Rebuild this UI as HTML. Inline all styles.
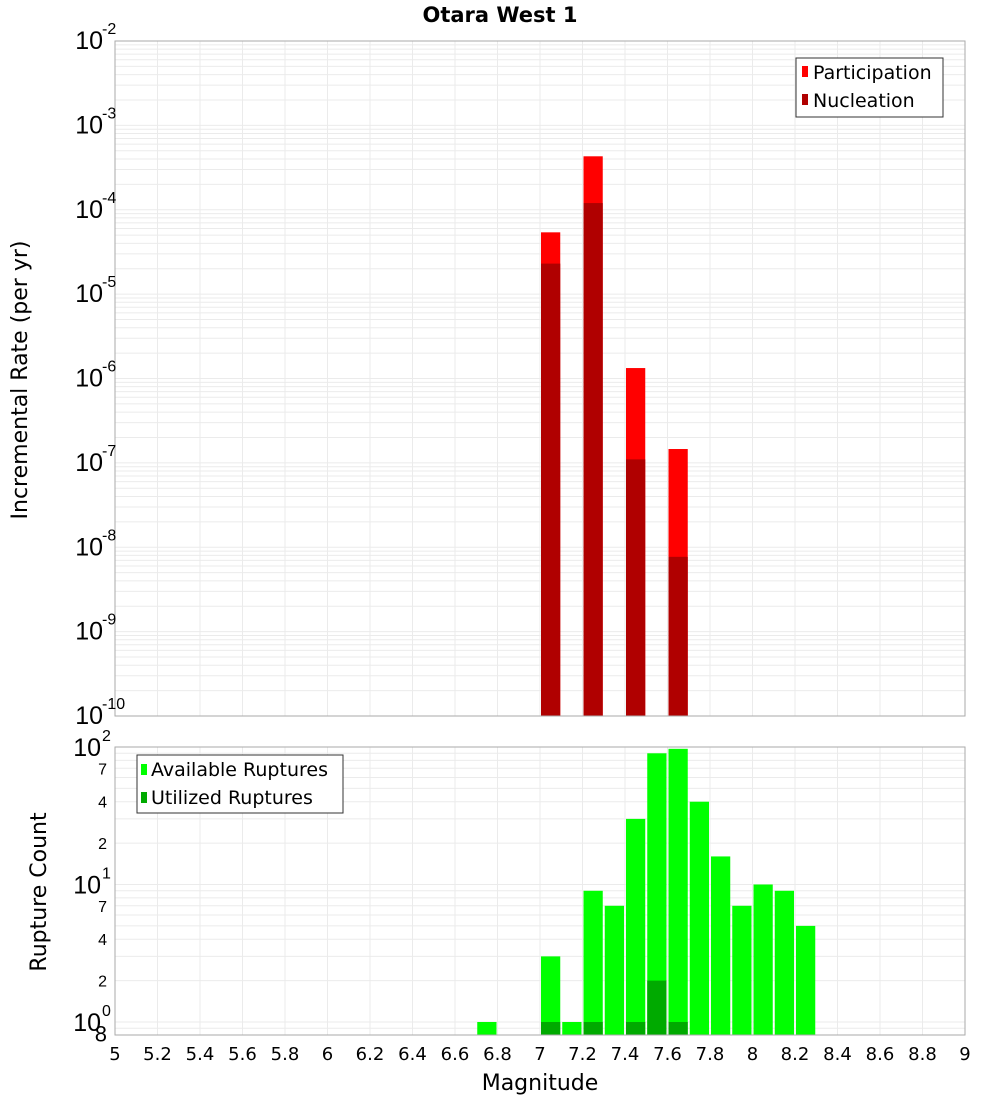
<!DOCTYPE html>
<html><head><meta charset="utf-8"><style>
html,body{margin:0;padding:0;background:#fff;}
svg{display:block;font-family:"Liberation Sans","DejaVu Sans",sans-serif;}
</style></head><body>
<svg id="chart" width="1000" height="1100" viewBox="0 0 1000 1100" xmlns="http://www.w3.org/2000/svg">
<text x="500" y="22" text-anchor="middle" font-size="21" font-weight="bold" font-family="DejaVu Sans, sans-serif">Otara West 1</text>
<g id="topg"></g>
<g id="botg"></g>
<text transform="translate(27,380) rotate(-90)" text-anchor="middle" font-size="22" font-family="DejaVu Sans, sans-serif">Incremental Rate (per yr)</text>
<text transform="translate(46,892) rotate(-90)" text-anchor="middle" font-size="22" font-family="DejaVu Sans, sans-serif">Rupture Count</text>
<text x="540" y="1090" text-anchor="middle" font-size="22" font-family="DejaVu Sans, sans-serif">Magnitude</text>
</svg>
<script>
const rateMags = [7.05, 7.25, 7.45, 7.65];
const participation = [5.4e-5, 4.3e-4, 1.33e-6, 1.46e-7];
const nucleation = [2.3e-5, 1.2e-4, 1.1e-7, 7.7e-9];
const countMags = [6.75, 7.05, 7.15, 7.25, 7.35, 7.45, 7.55, 7.65, 7.75, 7.85, 7.95, 8.05, 8.15, 8.25];
const available = [1, 3, 1, 9, 7, 30, 90, 97, 40, 16, 7, 10, 9, 5];
const utilMags = [7.05, 7.25, 7.45, 7.55, 7.65];
const utilized = [1, 1, 1, 2, 1];
const xTicks = ["5","5.2","5.4","5.6","5.8","6","6.2","6.4","6.6","6.8","7","7.2","7.4","7.6","7.8","8","8.2","8.4","8.6","8.8","9"];
const topExps = [-2,-3,-4,-5,-6,-7,-8,-9,-10];

const NS="http://www.w3.org/2000/svg";
const L=115, R=965;
const X=m=>L+(m-5)/4*(R-L);
const T0=41,T1=716;
const yTop=v=>T0+(-2-Math.log10(v))/8*(T1-T0);
const B0=747,B1=1035, BD=137.5;
const yBot=v=>1022-Math.log10(v)*BD;
function mk(p,tag,a){const e=document.createElementNS(NS,tag);for(const k in a)e.setAttribute(k,a[k]);p.appendChild(e);return e;}
const topG=document.getElementById('topg'), botG=document.getElementById('botg');

const tg=mk(topG,'g',{});


for(let e=-10;e<-2;e++)for(let k=1;k<10;k++){const y=yTop(k*Math.pow(10,e));mk(tg,'line',{x1:L,x2:R,y1:y,y2:y,stroke:'#ebebeb','stroke-width':1});}
xTicks.forEach(t=>{const x=X(+t);mk(tg,'line',{x1:x,x2:x,y1:T0,y2:T1,stroke:'#ebebeb'});});
rateMags.forEach((m,i)=>{
 const x=X(m-0.05)+1,w=X(m+0.05)-X(m-0.05)-2;
 const p=mk(topG,'rect',{x:x,y:yTop(participation[i]),width:w,height:T1-yTop(participation[i]),fill:'#ff0000'});
 
 
 const n=mk(topG,'rect',{x:x,y:yTop(nucleation[i]),width:w,height:T1-yTop(nucleation[i]),fill:'#b00000'});
 
 
});
mk(topG,'rect',{x:L,y:T0,width:R-L,height:T1-T0,fill:'none',stroke:'#aaa'});
topExps.forEach(e=>{const y=yTop(Math.pow(10,e));
 const t=mk(topG,'text',{x:L-12,y:y+8,'text-anchor':'end','font-size':25});
 
 
 t.textContent='10';
 const s=mk(topG,'text',{x:L-13,y:y-7,'font-size':16});
 
 
 s.textContent=String(e);
});
const lg=mk(topG,'g',{});


mk(lg,'rect',{x:796,y:58,width:147,height:59,fill:'#fff',stroke:'#333'});
[['Participation','#ff0000',73],['Nucleation','#b00000',101]].forEach(([l,c,y])=>{
 mk(lg,'rect',{x:802,y:y-7,width:6,height:11,fill:c});
 const t=mk(lg,'text',{x:813,y:y+6,'font-size':19,'font-family':'DejaVu Sans, sans-serif'});
 
 
 t.textContent=l;
});

const bg=mk(botG,'g',{});


for(let e=-1;e<2;e++)for(let k=1;k<10;k++){const v=k*Math.pow(10,e),y=yBot(v);if(y<B0-0.5||y>B1)continue;mk(bg,'line',{x1:L,x2:R,y1:y,y2:y,stroke:'#ebebeb'});}
xTicks.forEach(t=>{const x=X(+t);mk(bg,'line',{x1:x,x2:x,y1:B0,y2:B1,stroke:'#ebebeb'});});
countMags.forEach((m,i)=>{
 const x=X(m-0.05)+1,w=X(m+0.05)-X(m-0.05)-2;
 const r=mk(botG,'rect',{x:x,y:yBot(available[i]),width:w,height:B1-yBot(available[i]),fill:'#00ff00'});
 
 
});
utilMags.forEach((m,i)=>{
 const x=X(m-0.05)+1,w=X(m+0.05)-X(m-0.05)-2;
 const r=mk(botG,'rect',{x:x,y:yBot(utilized[i]),width:w,height:B1-yBot(utilized[i]),fill:'#00aa00'});
 
 
});
mk(botG,'rect',{x:L,y:B0,width:R-L,height:B1-B0,fill:'none',stroke:'#aaa'});
[0,1,2].forEach(e=>{const y=yBot(Math.pow(10,e));
 const t=mk(botG,'text',{x:L-14,y:y+9,'text-anchor':'end','font-size':25});
 
 
 t.textContent='10';
 const s=mk(botG,'text',{x:L-13,y:y-6,'font-size':16});
 
 
 s.textContent=String(e);
});
[[70,'7'],[40,'4'],[20,'2'],[7,'7'],[4,'4'],[2,'2'],[0.8,'8']].forEach(([v,l])=>{
 const t=mk(botG,'text',{x:L-8,y:yBot(v)+6,'text-anchor':'end','font-size':v<1?22:16});
 
 
 t.textContent=l;
});
xTicks.forEach(l=>{
 const t=mk(botG,'text',{x:X(+l),y:1060,'text-anchor':'middle','font-size':18,'font-family':'DejaVu Sans, sans-serif'});
 
 
 t.textContent=l;
});
const lb=mk(botG,'g',{});


mk(lb,'rect',{x:137,y:755,width:206,height:58,fill:'#fff',stroke:'#333'});
[['Available Ruptures','#00ff00',770],['Utilized Ruptures','#00aa00',798]].forEach(([l,c,y])=>{
 mk(lb,'rect',{x:141,y:y-6,width:6,height:11,fill:c});
 const t=mk(lb,'text',{x:151,y:y+6,'font-size':19,'font-family':'DejaVu Sans, sans-serif'});
 
 
 t.textContent=l;
});
</script>
</body></html>
